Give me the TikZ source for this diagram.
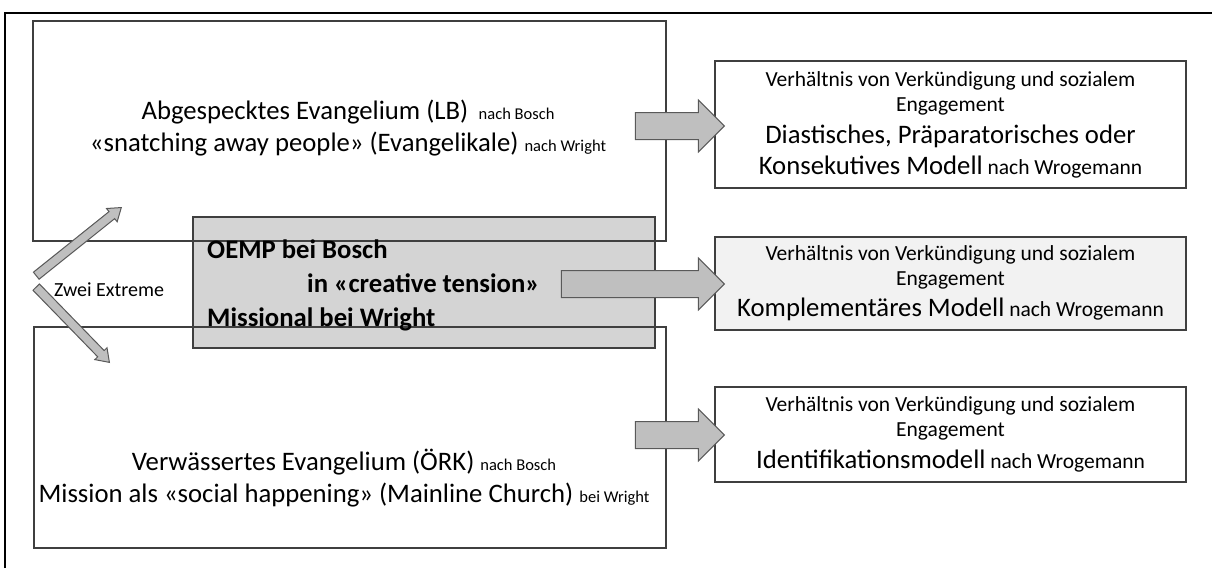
\documentclass[tikz,border=0pt]{standalone}
\usepackage{fontspec}
\setmainfont{Carlito}
\usetikzlibrary{positioning,shapes.arrows}
\definecolor{boxline}{HTML}{3F3F3F}
\definecolor{arrowfill}{HTML}{BFBFBF}
\definecolor{arrowline}{HTML}{595959}
\definecolor{oempfill}{HTML}{D4D4D4}
\definecolor{lightfill}{HTML}{F2F2F2}
\newcommand{\bigtxt}{\fontsize{26.7}{32}\selectfont}
\newcommand{\smalltxt}{\fontsize{21.5}{25}\selectfont}
\newcommand{\tinytxt}{\fontsize{16.5}{19}\selectfont}
\tikzset{box/.style = {rectangle,draw=boxline,line width=1.2pt,inner sep=0pt},
         modelbox/.style = {box,minimum width=471pt,align=center,font=\smalltxt},
         fatarrow/.style = {single arrow,draw=arrowline,fill=arrowfill,line width=1pt,
                            inner xsep=0pt,inner ysep=13pt,single arrow head extend=12.5pt,
                            single arrow tip angle=90,minimum height=89pt,anchor=tip},
         thinarrow/.style = {single arrow,draw=arrowline,fill=arrowfill,line width=1pt,
                             inner xsep=0pt,inner ysep=4pt,single arrow head extend=4pt,
                             single arrow tip angle=70,anchor=tip}}

\begin{document}
\begin{tikzpicture}[x=1pt,y=-1pt]
    \useasboundingbox (0,0) rectangle (1212,568);
    \draw[line width=2pt] (5,568) -- (5,13) -- (1212,13);
    \node[box,fill=oempfill,minimum width=462pt,minimum height=131pt] (oemp) at (424,282.5) {};
    \node[box,minimum width=633pt,minimum height=220pt] (lb) at (349.5,131) {};
    \node[box,minimum width=632pt,minimum height=221pt] (oerk) at (350,437.5) {};
    \node[anchor=west,align=left,inner sep=0pt,font=\bfseries\fontsize{26.7}{34}\selectfont] (oemptext) at (207,285)
          {OEMP bei Bosch\\ \hspace*{100pt}in «creative tension»\\ Missional bei Wright};
    \node[align=center,font=\bigtxt] (lbtext) at (348,128)
          {Abgespecktes Evangelium (LB)\, {\tinytxt nach Bosch}\\
           «snatching away people» (Evangelikale) {\tinytxt nach Wright}};
    \node[align=center,font=\bigtxt] (oerktext) at (344,478)
          {Verwässertes Evangelium (ÖRK) {\tinytxt nach Bosch}\\
           Mission als «social happening» (Mainline Church) {\tinytxt bei Wright}};
    \node[font=\fontsize{20}{24}\selectfont] (extreme) at (109,290) {Zwei Extreme};

    \node[modelbox,minimum height=127pt] (dia) at (950.5,124.5)
          {Verhältnis von Verkündigung und sozialem\\ Engagement\\[7pt]
           {\bigtxt Diastisches, Präparatorisches oder}\\[6pt]
           {\bigtxt Konsekutives Modell} nach Wrogemann};
    \node[modelbox,fill=lightfill,minimum height=93pt] (kom) at (950.5,283.5)
          {Verhältnis von Verkündigung und sozialem\\ Engagement\\[6pt]
           {\bigtxt Komplementäres Modell} nach Wrogemann};
    \node[modelbox,minimum height=95pt] (ident) at (950.5,434.5)
          {Verhältnis von Verkündigung und sozialem\\ Engagement\\[7pt]
           {\bigtxt Identifikationsmodell} nach Wrogemann};

    \node[fatarrow] (a1) at (725,126) {};
    \node[fatarrow,minimum height=163pt] (a2) at (725,284) {};
    \node[fatarrow] (a3) at (725,435) {};
    \node[thinarrow,minimum height=109pt,rotate=38.7] (up) at (122,207) {};
    \node[thinarrow,minimum height=105pt,rotate=-45.8] (down) at (110,363) {};
\end{tikzpicture}
\end{document}
